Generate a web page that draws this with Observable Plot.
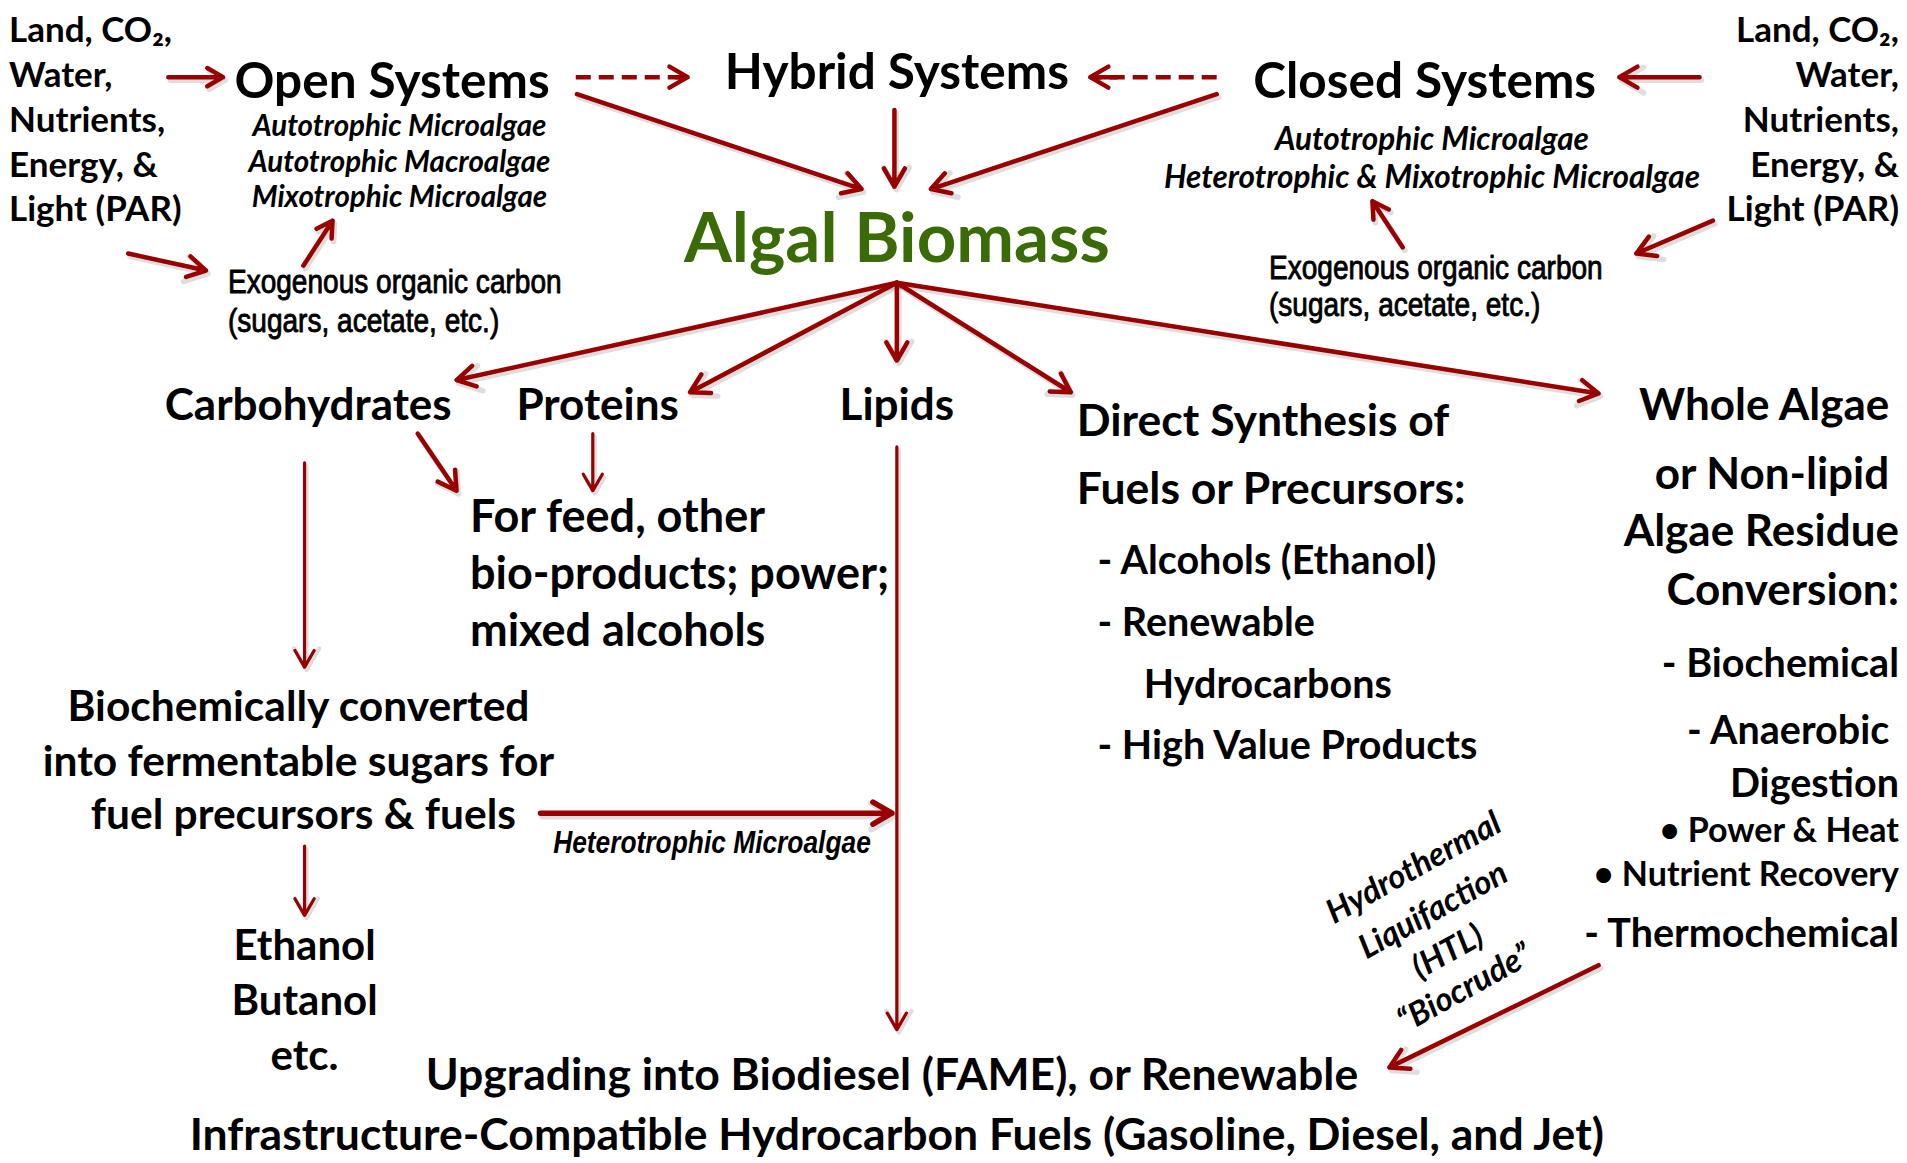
<!DOCTYPE html>
<html><head><meta charset="utf-8">
<script src="https://cdn.jsdelivr.net/npm/d3@7"></script>
<script src="https://cdn.jsdelivr.net/npm/@observablehq/plot@0.6"></script>
<style>html,body{margin:0;padding:0;background:#fff;} #chart svg{display:block;background:#fff}</style>
</head><body><div id="chart"></div>
<script>
// ---------------- data (layout units: 1568 x 956 canvas) ----------------
const inputText = ["Land, CO₂,", "Water,", "Nutrients,", "Energy, &", "Light (PAR)"];
const inputY = [25, 62, 99, 136, 172];
const inputLeftX = 7, inputRightX = 1561;

const systemText = ["Open Systems", "Hybrid Systems", "Closed Systems"];
const systemX = [322, 737, 1171];
const systemY = [67, 60, 67];

const openOrganisms = ["Autotrophic Microalgae", "Autotrophic Macroalgae", "Mixotrophic Microalgae"];
const openOrganismX = 328, openOrganismY = [104, 133, 162];
const closedOrganisms = ["Autotrophic Microalgae", "Heterotrophic & Mixotrophic Microalgae"];
const closedOrganismX = 1177, closedOrganismY = [115, 146];

const exoText = ["Exogenous organic carbon", "(sugars, acetate, etc.)"];
const exoLeftX = 187, exoLeftY = [232, 264];
const exoRightX = 1043, exoRightY = [220, 251];

const hubText = "Algal Biomass";
const hubX = 737, hubY = 197;

const fractionText = ["Carbohydrates", "Proteins", "Lipids"];
const fractionX = [253, 491, 737];
const fractionY = 333;

const feedText = ["For feed, other", "bio-products; power;", "mixed alcohols"];
const feedX = 386, feedY = [425, 472, 519];

const directHead = ["Direct Synthesis of", "Fuels or Precursors:"];
const directHeadX = 885, directHeadY = [346, 402];
const directItems = ["- Alcohols (Ethanol)", "- Renewable", "Hydrocarbons", "- High Value Products"];
const directItemX = [902, 902, 940, 902], directItemY = [461, 512, 563, 613];

const wholeHead = ["Whole Algae", "or Non-lipid", "Algae Residue", "Conversion:"];
const wholeHeadX = [1553, 1553, 1561, 1561], wholeHeadY = [333, 390, 437, 485];
const wholeItems = ["- Biochemical", "- Anaerobic", "Digestion", "- Thermochemical"];
const wholeItemX = [1561, 1553, 1561, 1561], wholeItemY = [546, 601, 644, 768];
const wholeBullets = ["• Power & Heat", "• Nutrient Recovery"];
const wholeBulletX = 1561, wholeBulletY = [683, 719];

const sugarText = ["Biochemically converted", "into fermentable sugars for", "fuel precursors & fuels"];
const sugarX = [245, 245, 249], sugarY = [581, 626, 670];
const heteroText = "Heterotrophic Microalgae";
const heteroX = 585, heteroY = 693;

const alcoholText = ["Ethanol", "Butanol", "etc."];
const alcoholX = 250, alcoholY = [778, 823, 868];

const fuelText = ["Upgrading into Biodiesel (FAME), or Renewable",
  "Infrastructure-Compatible Hydrocarbon Fuels (Gasoline, Diesel, and Jet)"];
const fuelX = [733, 737], fuelY = [884, 933];

const htlText = ["Hydrothermal", "Liquifaction", "(HTL)", "“Biocrude”"];
const htlX = [1162, 1178, 1190, 1204], htlY = [713, 748, 782, 812];

// arrows: [x1, y1, x2, y2]
const thickArrows = [
  [138, 63, 183, 63], [1397, 63, 1331, 63],
  [105, 208, 169, 222], [249, 218, 273, 181],
  [1408, 181, 1345, 208], [1153, 203, 1128, 165],
  [474, 77, 708, 155], [735, 90, 735, 153], [1000, 77, 765, 155],
  [737, 232, 375, 312], [737, 232, 567, 322], [737, 232, 737, 296],
  [737, 232, 880, 322], [737, 232, 1314, 323],
  [343, 356, 375, 403], [1314, 793, 1142, 877]
];
const thinArrows = [
  [487, 356, 487, 403], [250, 380, 250, 548], [250, 695, 250, 752], [737, 367, 737, 846]
];
const wideArrows = [[444, 668, 733, 668]];
const dashedArrows = [[473, 63, 565, 63], [1000, 63, 896, 63]];

// ---------------- build ----------------
const RED = "#990000", GREEN = "#3a6b07";
const MAIN = "Lato, 'Open Sans', sans-serif";
const NARROW = "'Liberation Sans Narrow', 'Liberation Sans', Arial, sans-serif";
const CONDENSE = 0.85;

const rows = (texts, xs, ys) => texts.map((t, i) => ({
  t, x: Array.isArray(xs) ? xs[i] : xs, y: Array.isArray(ys) ? ys[i] : ys
}));
const seg = a => a.map(([x1, y1, x2, y2]) => ({x1, y1, x2, y2}));

const txt = (data, o) => Plot.text(data, {x: "x", y: "y", text: "t", fontFamily: MAIN, fontWeight: "bold", fill: "#000", ...o});

function arrowSet(data, sw, hl) {
  return [
    Plot.arrow(seg(data), {x1: "x1", y1: "y1", x2: "x2", y2: "y2", stroke: "#000", strokeOpacity: 0.13, strokeWidth: sw + 1, headLength: hl, dx: 2, dy: 3}),
    Plot.arrow(seg(data), {x1: "x1", y1: "y1", x2: "x2", y2: "y2", stroke: RED, strokeWidth: sw, headLength: hl})
  ];
}

const chart = Plot.plot({
  width: 1907, height: 1163,
  margin: 0,
  x: {domain: [0, 1568], range: [0, 1907], axis: null},
  y: {domain: [0, 956], range: [0, 1163], axis: null},
  marks: [
    ...arrowSet(thickArrows, 4.5, 7),
    ...arrowSet(thinArrows, 3.2, 9),
    ...arrowSet(wideArrows, 5.5, 6),
    Plot.link(seg(dashedArrows), {x1: "x1", y1: "y1", x2: "x2", y2: "y2", stroke: RED, strokeWidth: 4.5, strokeDasharray: "15,8"}),
    Plot.arrow(seg(dashedArrows), {x1: "x1", y1: "y1", x2: "x2", y2: "y2", stroke: RED, strokeWidth: 4.5, headLength: 7, insetStart: 100}),

    txt(rows(inputText, inputLeftX, inputY), {textAnchor: "start", fontSize: 35}),
    txt(rows(inputText, inputRightX, inputY), {textAnchor: "end", fontSize: 35}),
    txt(rows(systemText, systemX, systemY), {fontSize: 49.5}),
    txt(rows(openOrganisms, openOrganismX, openOrganismY), {fontSize: 29.5, fontStyle: "italic"}),
    txt(rows(closedOrganisms, closedOrganismX, closedOrganismY), {fontSize: 31.5, fontStyle: "italic"}),
    txt(rows(exoText, exoLeftX, exoLeftY), {textAnchor: "start", fontSize: 33, fontFamily: NARROW, fontWeight: "normal", stroke: "#000", strokeWidth: 0.9}),
    txt(rows(exoText, exoRightX, exoRightY), {textAnchor: "start", fontSize: 33, fontFamily: NARROW, fontWeight: "normal", stroke: "#000", strokeWidth: 0.9}),
    txt(rows([hubText], hubX, hubY), {fontSize: 69, fill: GREEN}),
    txt(rows(fractionText, fractionX, fractionY), {fontSize: 44}),
    txt(rows(feedText, feedX, feedY), {textAnchor: "start", fontSize: 45}),
    txt(rows(directHead, directHeadX, directHeadY), {textAnchor: "start", fontSize: 44.5}),
    txt(rows(directItems, directItemX, directItemY), {textAnchor: "start", fontSize: 39.5}),
    txt(rows(wholeHead, wholeHeadX, wholeHeadY), {textAnchor: "end", fontSize: 44}),
    txt(rows(wholeItems, wholeItemX, wholeItemY), {textAnchor: "end", fontSize: 39.5}),
    txt(rows(wholeBullets, wholeBulletX, wholeBulletY), {textAnchor: "end", fontSize: 34}),
    txt(rows(sugarText, sugarX, sugarY), {fontSize: 42.5}),
    txt(rows([heteroText], heteroX, heteroY), {fontSize: 31, fontFamily: NARROW, fontStyle: "italic"}),
    txt(rows(alcoholText, alcoholX, alcoholY), {fontSize: 42}),
    txt(rows(fuelText, fuelX, fuelY), {fontSize: 44.5}),
    txt(rows(htlText, htlX, htlY), {fontSize: 33, fontStyle: "italic", rotate: -29})
  ]
});
document.getElementById("chart").appendChild(chart);

// condense the narrow-face labels (Arial Narrow look) horizontally
const narrowSet = new Set([...exoText, heteroText]);
chart.querySelectorAll("text").forEach(el => {
  if (narrowSet.has(el.textContent)) {
    const w = el.getComputedTextLength();
    el.setAttribute("textLength", (w * CONDENSE).toFixed(1));
    el.setAttribute("lengthAdjust", "spacingAndGlyphs");
  }
});
</script>
</body></html>
